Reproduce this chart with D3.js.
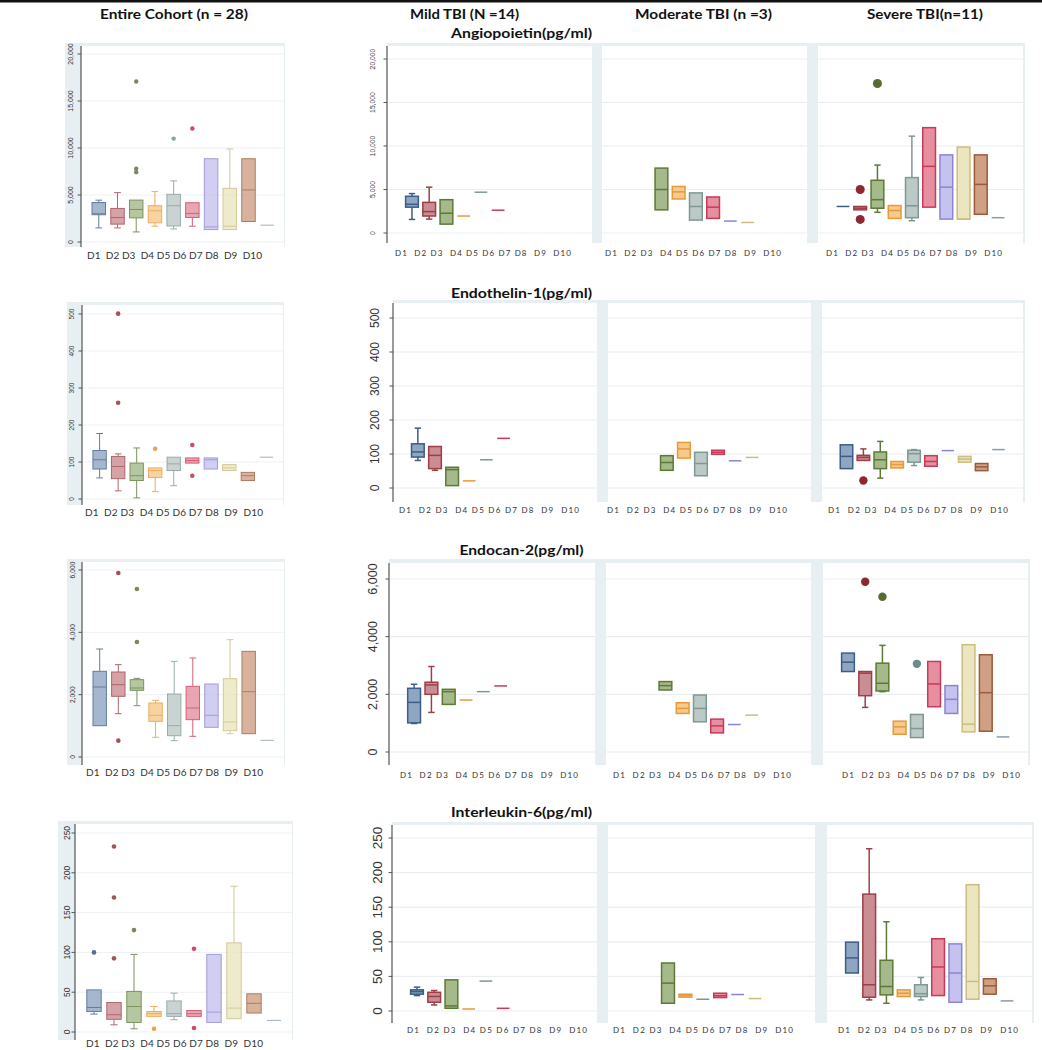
<!DOCTYPE html>
<html><head><meta charset="utf-8">
<script src="https://cdn.jsdelivr.net/npm/d3@7"></script>
<style>body{margin:0;background:#fff}svg{display:block}text{white-space:pre}</style>
</head><body><svg id="c" width="1042" height="1050"></svg>
<script>
// ---------------- DATA ----------------
const days = ["D1","D2","D3","D4","D5","D6","D7","D8","D9","D10"];
const dayLabelText = "D1  D2 D3  D4 D5 D6 D7 D8  D9  D10";
const columnHeaders = ["Entire Cohort (n = 28)","Mild TBI (N =14)","Moderate TBI (n =3)","Severe TBI(n=11)"];
const rowTitles = ["Angiopoietin(pg/ml)","Endothelin-1(pg/ml)","Endocan-2(pg/ml)","Interleukin-6(pg/ml)"];

// y ticks
const angTicks = [0,5000,10000,15000,20000];
const etTicks  = [0,100,200,300,400,500];
const ecTicks  = [0,2000,4000,6000];
const ilTicks  = [0,50,100,150,200,250];

// box stats: [lower whisker, q1, median, q3, upper whisker]
// ---- Angiopoietin
const angCoh = [[1500,2900,3000,4200,4450],[1500,1900,2600,3570,5250],[1070,2570,3460,4460,4460],[1680,2040,3320,3860,5360],[1390,1710,3860,5070,6500],[1680,2610,3040,4180,4180],[1320,1320,1610,8860,8860],[1320,1320,1680,5710,9890],[2180,2180,5540,8860,8860],[1790,1790,1790,1790,1790]];
const angCohOut = [[],[],[17070,7790,7430],[],[11000],[12070],[],[],[],[]];
const angMild = [[1560,2970,3300,4220,4530],[1600,1950,2460,3520,5270],[1020,1020,2270,3830,3830],[1950,1950,1950,1950,1950],[4690,4690,4690,4690,4690],[2620,2620,2620,2620,2620],null,null,null,null];
const angMildOut = [[],[],[],[],[],[],[],[],[],[]];
const angMod = [null,null,[2660,2660,5000,7460,7460],[3910,3910,4730,5350,5350],[1480,1480,3050,4610,4610],[1680,1680,2970,4140,4140],[1370,1370,1370,1370,1370],[1210,1210,1210,1210,1210],null,null];
const angModOut = [[],[],[],[],[],[],[],[],[],[]];
const angSev = [[3050,3050,3050,3050,3050],[2660,2660,2850,3050,3050],[2380,2850,3830,6060,7810],[1680,1680,2580,3160,3160],[1410,1760,3130,6370,11130],[2970,2970,7660,12110,12110],[1600,1600,5270,8980,8980],[1600,1600,1600,9880,9880],[2150,2150,5590,8980,8980],[1760,1760,1760,1760,1760]];
const angSevOut = [[],[5000,1560],[17190],[],[],[],[],[],[],[]];

// ---- Endothelin-1
const etCoh = [[57,81,106,131,177],[22,55,88,115,122],[3,50,63,97,138],[20,58,77,84,84],[36,77,95,113,113],[97,97,104,111,111],[81,81,106,111,111],[77,77,84,93,93],[50,50,63,72,72],[113,113,113,113,113]];
const etCohOut = [[],[501,260],[],[136],[],[146,63],[],[],[],[]];
const etMild = [[81,91,106,130,176],[52,57,96,122,122],[7,7,54,61,61],[21,21,21,21,21],[83,83,83,83,83],[146,146,146,146,146],null,null,null,null];
const etMildOut = [[],[500,262],[],[],[],[],[],[],[],[]];
const etMod = [null,null,[52,52,75,95,95],[88,88,115,134,134],[36,36,72,105,105],[99,99,105,111,111],[80,80,80,80,80],[90,90,90,90,90],null,null];
const etModOut = [[],[],[],[],[],[],[],[],[],[]];
const etSev = [[57,57,93,127,127],[81,81,90,96,115],[29,57,83,106,137],[59,59,69,78,78],[66,76,101,111,113],[64,64,78,95,95],[110,110,110,110,110],[76,76,85,93,93],[51,51,62,72,72],[113,113,113,113,113]];
const etSevOut = [[],[22],[],[],[],[],[],[],[],[]];

// ---- Endocan-2
const ecCoh = [[1005,1005,2246,2749,3465],[1390,1947,2321,2727,2963],[1647,2139,2214,2481,2524],[631,1144,1337,1733,1818],[524,684,1005,2021,3069],[663,1198,1572,2267,3176],[952,952,1337,2342,2342],[749,845,1123,2513,3765],[749,749,2096,3390,3390],[535,535,535,535,535]];
const ecCohOut = [[],[5904,524],[5390,3690],[],[],[],[],[],[],[]];
const ecMild = [[988,1012,1721,2209,2349],[1372,2000,2326,2419,2965],[1651,1651,2093,2174,2174],[1802,1802,1802,1802,1802],[2093,2093,2093,2093,2093],[2291,2291,2291,2291,2291],null,null,null,null];
const ecMildOut = [[],[500],[],[],[],[],[],[],[],[]];
const ecMod = [null,null,[2151,2151,2302,2442,2442],[1337,1337,1512,1709,1709],[1047,1047,1512,1977,1977],[663,663,907,1140,1140],[953,953,953,953,953],[1279,1279,1279,1279,1279],null,null];
const ecModOut = [[],[],[],[],[],[],[],[],[],[]];
const ecSev = [[2791,2791,3116,3430,3430],[1547,1953,2733,2791,2791],[2093,2116,2384,3081,3698],[616,616,872,1070,1070],[500,500,814,1302,1302],[1570,1570,2360,3140,3140],[1337,1337,1826,2302,2302],[698,698,965,3721,3721],[721,721,2058,3372,3372],[523,523,523,523,523]];
const ecSevOut = [[],[5907],[5384],[],[3058],[],[],[],[],[]];

// ---- Interleukin-6
const ilCoh = [[22.5,25.8,30.8,52.9,52.9],[9,16,21.7,37,37],[4,12,32,51,97.5],[19.6,19.6,23,25.8,32],[15.4,19.6,23,39,48.8],[19.6,19.6,23,27,27],[12,12,25,97.5,97.5],[16.7,16.7,30,112,183],[23.8,23.8,36,48,48],[14.6,14.6,14.6,14.6,14.6]];
const ilCohOut = [[100],[233,169,92.5],[128],[4],[],[104.6,5],[],[],[],[]];
const ilMild = [[22.3,24.3,28,30.6,34.5],[8.7,12.6,21,27,29.6],[3.9,3.9,7.3,45,45],[2.9,2.9,2.9,2.9,2.9],[43.2,43.2,43.2,43.2,43.2],[3.9,3.9,3.9,3.9,3.9],null,null,null,null];
const ilMildOut = [[],[92.7],[],[],[],[],[],[],[],[]];
const ilMod = [null,null,[11.2,11.2,40.3,69.4,69.4],[20,20,22.3,24.3,24.3],[17,17,17,17,17],[19.4,19.4,22,25.7,25.7],[23.8,23.8,23.8,23.8,23.8],[18,18,18,18,18],null,null];
const ilModOut = [[],[],[],[],[],[],[],[],[],[]];
const ilSev = [[54.9,54.9,76.7,99.5,99.5],[16,19.9,37.9,168.9,234.5],[11.2,23.3,35.4,73.3,129],[20.9,20.9,25.7,30.6,30.6],[16,20.9,25,37.9,48.5],[22.3,22.3,63.6,104.4,104.4],[12.6,12.6,54.9,97,97],[17,17,42.7,182.5,182.5],[24.3,24.3,36.4,46.6,46.6],[14.6,14.6,14.6,14.6,14.6]];
const ilSevOut = [[],[],[],[],[],[],[],[],[],[]];

// colours per day
const strokeCols = ["#3d5d86","#9e3f47","#5c7a36","#e8993a","#7f9894","#c93a56","#8b84d4","#cbbd80","#9c5a3a","#8a9bb0"];
const fillCols   = ["#8fa6c2","#c98d93","#a5b98a","#f6c98c","#bccac7","#e58fa0","#c6c2f0","#ebe5c0","#d0a085","#8a9bb0"];
const outCols    = ["#2a4a7f","#8c2830","#566d2e","#e8892a","#6a8e8c","#c41e3f","#8b84d4","#cbbd80","#9c5a3a","#8a9bb0"];

// ---------------- LAYOUT ----------------
const LIGHT = "#e8eff2";
const rowsData = [
  {ticks:angTicks, coh:[angCoh,angCohOut], grp:[[angMild,angMildOut],[angMod,angModOut],[angSev,angSevOut]]},
  {ticks:etTicks,  coh:[etCoh,etCohOut],   grp:[[etMild,etMildOut],[etMod,etModOut],[etSev,etSevOut]]},
  {ticks:ecTicks,  coh:[ecCoh,ecCohOut],   grp:[[ecMild,ecMildOut],[ecMod,ecModOut],[ecSev,ecSevOut]]},
  {ticks:ilTicks,  coh:[ilCoh,ilCohOut],   grp:[[ilMild,ilMildOut],[ilMod,ilModOut],[ilSev,ilSevOut]]}
];
const cohLayout = [
  {bgLeft:65, axisX:81, right:285, top:43,  bottom:247,  y0:242,  yT:54,  tickFont:7,   tickX:71, labelY:255,  labelStart:87, labelLen:175, labelFont:10, r:2.2},
  {bgLeft:67, axisX:82, right:284, top:302, bottom:505,  y0:499,  yT:314, tickFont:6.5, tickX:72, labelY:512,  labelStart:85, labelLen:178, labelFont:10, r:2.3},
  {bgLeft:67, axisX:82, right:285, top:559, bottom:765,  y0:757,  yT:570, tickFont:6.7, tickX:73, labelY:772,  labelStart:86, labelLen:177, labelFont:10, r:2.3},
  {bgLeft:58, axisX:75, right:293, top:821, bottom:1040, y0:1032, yT:833, tickFont:8.5, tickX:67, labelY:1043, labelStart:86, labelLen:177, labelFont:10, r:2.3}
];
const grpLayout = [
  {panels:[[387,592],[602,807],[818,1023]], top:43,  bottom:243,  strip:3, y0:233,  yT:59,  tickFont:6.8, tickX:373, labelY:253,  labelStarts:[395,605,826], labelLen:176, labelFont:8, r:4.5, titleY:33},
  {panels:[[393,597],[608,811],[822,1023]], top:300, bottom:502,  strip:3, y0:488,  yT:318, tickFont:12,  tickX:375, labelY:510,  labelStarts:[399,607,828], labelLen:180, labelFont:8, r:4.2, titleY:293},
  {panels:[[389,595],[606,811],[823,1028]], top:559, bottom:765,  strip:4, y0:752,  yT:579, tickFont:12.5,tickX:373, labelY:775,  labelStarts:[400,613,842], labelLen:178, labelFont:8, r:4.2, titleY:550},
  {panels:[[392,597],[608,815],[827,1032]], top:822, bottom:1023, strip:3, y0:1011, yT:838, tickFont:13.5,tickX:377, labelY:1030, labelStarts:[407,613,838], labelLen:180, labelFont:8, r:4.2, titleY:812}
];

const svg = d3.select("#c");
const fmt = d3.format(",");

// top rule
svg.append("rect").attr("x",0).attr("y",0).attr("width",1042).attr("height",2.5).attr("fill","#111");

// headers
const hdr = [{x:174,w:148},{x:464.5,w:109},{x:703.5,w:137},{x:925,w:116}];
columnHeaders.forEach((t,i)=>{
  svg.append("text").attr("x",hdr[i].x-hdr[i].w/2).attr("y",18.5)
    .attr("textLength",hdr[i].w).attr("lengthAdjust","spacingAndGlyphs")
    .attr("font-family","Lato, 'Open Sans', sans-serif").attr("font-weight","bold").attr("font-size",14)
    .attr("fill","#111").text(t);
});
const titleW = [141,141,124,141];
rowTitles.forEach((t,i)=>{
  svg.append("text").attr("x",521.5-titleW[i]/2).attr("y",grpLayout[i].titleY+5)
    .attr("textLength",titleW[i]).attr("lengthAdjust","spacingAndGlyphs")
    .attr("font-family","Lato, 'Open Sans', sans-serif").attr("font-weight","bold").attr("font-size",14)
    .attr("fill","#111").text(t);
});

function drawBoxes(g, xs, ys, stats, outs, o){
  const bw = xs.step()*o.bwFrac, cw = bw*0.5;
  const items = days.map((d,i)=>({day:d,i,s:stats[i],out:outs[i]||[]})).filter(b=>b.s);
  const bg = g.selectAll("g.bx").data(items).join("g").attr("class","bx")
    .attr("opacity",o.op);
  bg.each(function(b){
    const el = d3.select(this), cx = xs(b.day), [lo,q1,md,q3,hi] = b.s;
    const sc = strokeCols[b.i], fc = fillCols[b.i];
    if(hi>q3){
      el.append("line").attr("x1",cx).attr("x2",cx).attr("y1",ys(q3)).attr("y2",ys(hi)).attr("stroke",sc).attr("stroke-width",o.sw);
      el.append("line").attr("x1",cx-cw/2).attr("x2",cx+cw/2).attr("y1",ys(hi)).attr("y2",ys(hi)).attr("stroke",sc).attr("stroke-width",o.sw);
    }
    if(lo<q1){
      el.append("line").attr("x1",cx).attr("x2",cx).attr("y1",ys(q1)).attr("y2",ys(lo)).attr("stroke",sc).attr("stroke-width",o.sw);
      el.append("line").attr("x1",cx-cw/2).attr("x2",cx+cw/2).attr("y1",ys(lo)).attr("y2",ys(lo)).attr("stroke",sc).attr("stroke-width",o.sw);
    }
    el.append("rect").attr("x",cx-bw/2).attr("width",bw).attr("y",ys(q3)).attr("height",Math.max(0,ys(q1)-ys(q3)))
      .attr("fill",fc).attr("stroke",sc).attr("stroke-width",o.sw);
    el.append("line").attr("x1",cx-bw/2).attr("x2",cx+bw/2).attr("y1",ys(md)).attr("y2",ys(md)).attr("stroke",sc).attr("stroke-width",o.sw);
    el.selectAll("circle").data(b.out).join("circle").attr("cx",cx).attr("cy",v=>ys(v)).attr("r",o.r).attr("fill",outCols[b.i]);
  });
}

function drawYAxis(g, ys, ticks, axisX, top, bottom, tickX, font){
  g.append("line").attr("x1",axisX).attr("x2",axisX).attr("y1",top).attr("y2",bottom).attr("stroke","#555").attr("stroke-width",1.2);
  ticks.forEach(t=>{
    g.append("line").attr("x1",axisX-3.5).attr("x2",axisX).attr("y1",ys(t)).attr("y2",ys(t)).attr("stroke","#555").attr("stroke-width",1);
    g.append("text").attr("transform",`translate(${tickX},${ys(t)}) rotate(-90)`).attr("text-anchor","middle")
      .attr("dy","0.35em").attr("font-family","'Liberation Sans', Arial, sans-serif").attr("font-size",font).attr("fill","#333").text(fmt(t));
  });
}

function dayLabels(g, x, y, len, font){
  g.append("text").attr("x",x).attr("y",y).attr("dy","0.35em").attr("textLength",len).attr("lengthAdjust","spacing")
    .attr("font-family","Lato, 'Open Sans', sans-serif").attr("font-size",font).attr("fill","#333").text(dayLabelText);
}

rowsData.forEach((row,ri)=>{
  // ---- cohort panel
  const C = cohLayout[ri];
  const gc = svg.append("g");
  gc.append("rect").attr("x",C.bgLeft).attr("y",C.top).attr("width",C.right-C.bgLeft).attr("height",C.bottom-C.top).attr("fill",LIGHT);
  gc.append("rect").attr("x",C.axisX).attr("y",C.top+3).attr("width",C.right-C.axisX-1).attr("height",C.bottom-C.top-3).attr("fill","#fff");
  const ysc = d3.scaleLinear().domain([0,row.ticks[row.ticks.length-1]]).range([C.y0,C.yT]);
  const xsc = d3.scalePoint().domain(days).range([C.axisX,C.right]).padding(0.95);
  row.ticks.forEach(t=>gc.append("line").attr("x1",C.axisX).attr("x2",C.right-1).attr("y1",ysc(t)).attr("y2",ysc(t)).attr("stroke","#eef1f3"));
  drawYAxis(gc, ysc, row.ticks, C.axisX, C.top+3, C.bottom, C.tickX, C.tickFont);
  drawBoxes(gc, xsc, ysc, row.coh[0], row.coh[1], {bwFrac:0.72, sw:1, op:0.8, r:C.r});
  dayLabels(gc, C.labelStart, C.labelY, C.labelLen, C.labelFont);

  // ---- group panels
  const G = grpLayout[ri];
  const gg = svg.append("g");
  const L0 = G.panels[0][0], R2 = G.panels[2][1];
  gg.append("rect").attr("x",L0).attr("y",G.top).attr("width",R2-L0+2).attr("height",G.bottom-G.top).attr("fill",LIGHT);
  const ysg = d3.scaleLinear().domain([0,row.ticks[row.ticks.length-1]]).range([G.y0,G.yT]);
  G.panels.forEach((p,pi)=>{
    gg.append("rect").attr("x",p[0]).attr("y",G.top+G.strip).attr("width",p[1]-p[0]).attr("height",G.bottom-G.top-G.strip).attr("fill","#fff");
    row.ticks.forEach(t=>gg.append("line").attr("x1",p[0]).attr("x2",p[1]).attr("y1",ysg(t)).attr("y2",ysg(t)).attr("stroke","#eaeef1").attr("stroke-width",1.2));
  });
  drawYAxis(gg, ysg, row.ticks, L0, G.top+G.strip, G.bottom, G.tickX, G.tickFont);
  G.panels.forEach((p,pi)=>{
    const xs = d3.scalePoint().domain(days).range([p[0],p[1]]).padding(1.45);
    drawBoxes(gg, xs, ysg, row.grp[pi][0], row.grp[pi][1], {bwFrac:0.74, sw:1.5, op:1, r:G.r});
    dayLabels(gg, G.labelStarts[pi], G.labelY, G.labelLen, G.labelFont);
  });
});
</script></body></html>
